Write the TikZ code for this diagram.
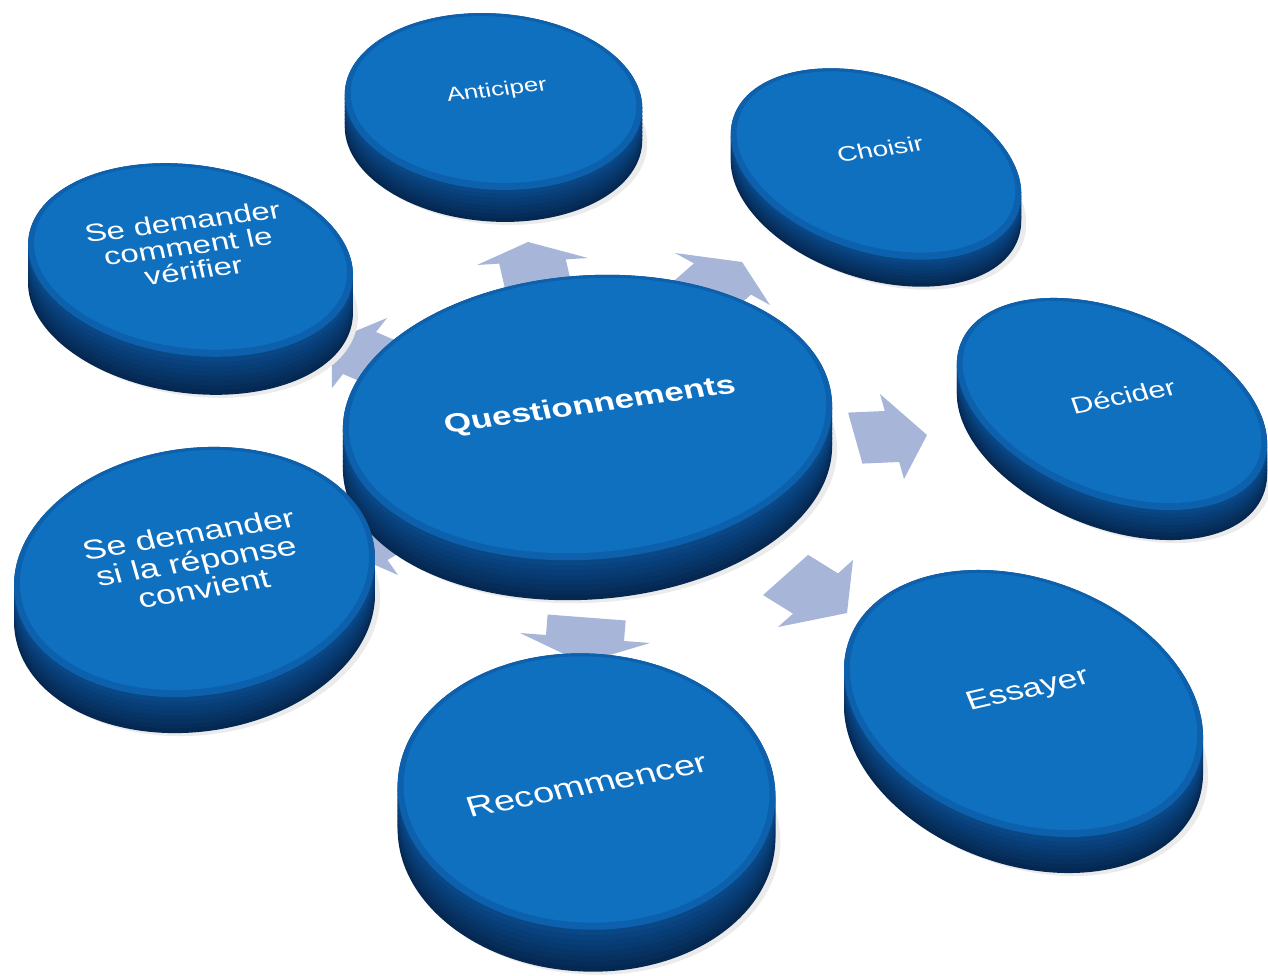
\documentclass[tikz,border=0pt]{standalone}
\usepackage{fontspec}
\usepackage{pdfrender}
\setmainfont{Liberation Sans}
\usetikzlibrary{calc}
\definecolor{discface}{RGB}{16,112,192}
\definecolor{discbevel}{RGB}{12,96,172}
\definecolor{discside}{RGB}{11,84,155}
\definecolor{discdark}{RGB}{5,40,82}
\definecolor{arrowcol}{RGB}{167,181,216}
\definecolor{reliefgrey}{RGB}{140,140,140}
% white text with a grey rim
\newcommand{\relief}[1]{%
  \textpdfrender{TextRenderingMode=FillStroke, LineWidth=1.3pt, StrokeColor=reliefgrey}{#1}}
\tikzset{
  blockarrow/.style={fill=arrowcol},
  disclabel/.style={text=white, align=center, yscale=.75, inner sep=0pt}
}
\begin{document}
\begin{tikzpicture}[x=1pt,y=-1pt]
  \fill[white] (0,0) rectangle (1268,975);
  \useasboundingbox (0,0) rectangle (1268,975);

  % arrows from the centre outwards, behind the discs
  \foreach \mx/\my/\ux/\uy/\vx/\vy/\ls in {
      532.5/261.5/-4.5/-19.5/55.5/-3.5/3,
      722.5/279/19.5/-17/47.5/26/3,
      892/436.5/35/-1.5/12/42.5/1.05,
      815.5/593.5/31.5/19.5/37.5/-33.5/0.95,
      585/638/-2/25/65/5/0.82,
      371.5/537.5/-25/15/26.5/37.5/3,
      359.5/353/-28/-12/27.5/-35/3}
    \fill[blockarrow] ($(\mx,\my)-\ls*(\ux,\uy)-.6*(\vx,\vy)$) -- ($(\mx,\my)-.6*(\vx,\vy)$)
      -- ($(\mx,\my)-(\vx,\vy)$) -- ($(\mx,\my)+(\ux,\uy)$) -- ($(\mx,\my)+(\vx,\vy)$)
      -- ($(\mx,\my)+.6*(\vx,\vy)$) -- ($(\mx,\my)-\ls*(\ux,\uy)+.6*(\vx,\vy)$) -- cycle;

  % discs: centre of top face, radii, tilt, thickness
  \foreach \nm/\cx/\cy/\rx/\ry/\rot/\t in {
      q/587.5/417.5/245/142/4/40,
      ant/493.5/101.5/149/88/-4/32,
      cho/876/164/150/88/-18/27,
      dec/1112/404/163/93.5/-22/30,
      ess/1023.5/703.5/185.5/125/-20/36,
      rec/586.5/791.5/189/138/-3/42,
      ver/190.5/260/163.5/95/-8/38,
      rep/194.5/572/181.4/123.7/8/36}
  {
    \fill[black!8, rotate around={\rot:(\cx+5,\cy+\t+3)}] (\cx+5,\cy+\t+3) ellipse [x radius=\rx, y radius=\ry];
    \foreach \k in {0,...,8}{
      \pgfmathsetmacro\off{\t*(1-\k/8)}
      \pgfmathtruncatemacro\mix{100-10*\k}
      \fill[discdark!\mix!discside, rotate around={\rot:(\cx,\cy+\off)}] (\cx,\cy+\off) ellipse [x radius=\rx, y radius=\ry];
    }
    \fill[discbevel, rotate around={\rot:(\cx,\cy)}] (\cx,\cy) ellipse [x radius=\rx, y radius=\ry];
    \fill[discface, rotate around={\rot:(\cx,\cy-2)}] (\cx,\cy-2) ellipse [x radius=\rx-6, y radius=\ry-5];
    \coordinate (\nm) at (\cx,\cy);
  }

  % labels
  \foreach \nm/\tx/\ty/\ang/\fs/\bs/\txt in {
      q/590/406/10.6/35/40/{\relief{\bfseries Questionnements}},
      ant/497/91/8.8/26/30/{\relief{Anticiper}},
      cho/880/149/11.3/28/32/{\relief{Choisir}},
      dec/1123/396/14.5/31/35/{\relief{Décider}},
      ess/1028/691/17/35/40/{\relief{Essayer}},
      rec/587/785/14.5/38/43/{\relief{Recommencer}},
      ver/188/246/9.7/33/33/{\relief{Se demander}\\\relief{comment le}\\\relief{vérifier}},
      rep/196/561/12/36/37/{\relief{Se demander}\\\relief{si la réponse}\\\relief{convient}}}
    \node[disclabel, rotate=\ang, font=\fontsize{\fs}{\bs}\selectfont] (\nm-label) at (\tx,\ty) {\txt};
\end{tikzpicture}
\end{document}
